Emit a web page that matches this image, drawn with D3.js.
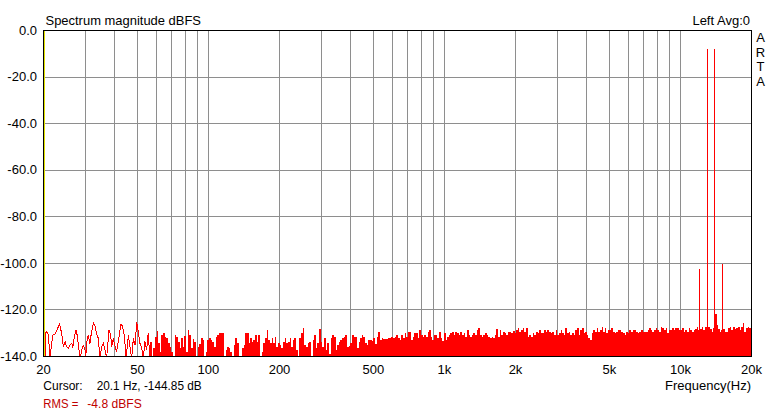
<!DOCTYPE html>
<html>
<head>
<meta charset="utf-8">
<script src="https://cdn.jsdelivr.net/npm/d3@7"></script>
<style>
html,body{margin:0;padding:0;background:#fff;}
svg{display:block;}
text{font-family:"Liberation Sans",Arial,sans-serif;font-size:13px;}
</style>
</head>
<body>
<svg id="chart" width="770" height="411"></svg>
<script>
// ---------------- data ----------------
const yTicks = [0, -20, -40, -60, -80, -100, -120, -140];
const xGridHz = [20,30,40,50,60,70,80,90,100,200,300,400,500,600,700,800,900,1000,
                 2000,3000,4000,5000,6000,7000,8000,9000,10000,20000];
const xLabelHz = [20, 50, 100, 200, 500, 1000, 2000, 5000, 10000, 20000];
const xLabelText = ["20","50","100","200","500","1k","2k","5k","10k","20k"];

// low-frequency part of the spectrum (line)
const lowHz = [20.4,20.5,20.7,21.1,21.4,21.8,22.0,22.5,22.9,23.5,24.0,24.4,24.8,25.2,25.6,
  26.0,26.5,26.7,27.1,27.6,27.9,28.3,28.7,29.1,29.6,30.1,30.3,30.8,31.1,31.6,32.1,32.7,33.2,
  33.7,34.3,34.9,35.4,36.0,36.6,37.2,38.1,38.7,39.1,39.7,40.3,41.0,41.7,42.8,43.5,44.2,45.0,
  46.0,46.8,47.5,48.3,49.1,49.9,50.8,51.5,52.3,53.2,54.1,55.0,55.8,56.8];
const lowDb = [-141,-129.8,-129.5,-131,-141,-134,-131,-130.5,-129,-126.2,-130.3,-136,-133.8,-136,-136.7,
  -135.3,-134.6,-136.7,-132.4,-128.8,-131,-136,-141,-138.1,-135.3,-136.7,-141,-132.4,-131,-134.6,
  -129.8,-125.7,-127,-130.3,-132.4,-141,-136,-134.6,-137.4,-141,-128.8,-131,-136,-132.4,-135.3,
  -138.1,-133.8,-126.2,-127.4,-131,-141,-131,-136.7,-141,-132.4,-135.3,-125.5,-130.3,-134.6,-136,
  -141,-133.8,-137.4,-130.3,-141];

// dense noise floor, 56.8 Hz .. 20 kHz, log-spaced bins (peak level per bin)
const floorStartHz = 56.8, floorEndHz = 20000;
const floorDb = [
 -133.8,-141,-136.7,-131.7,-129.3,-134.6,-138.1,-131.0,-130.3,-131.7,-132.4,
 -134.6,-136.0,-138.1,-141,-131.0,-131.7,-133.8,-136.7,-132.4,-136.0,
 -131.3,-138.1,-128.8,-131.0,-136.7,-132.7,-133.8,-141,-136.0,-135.0,
 -132.4,-133.1,-141,-138.1,-133.1,-132.4,-133.1,-133.8,-136.0,-131.7,
 -131.0,-130.3,-130.3,-130.3,-141,-137.4,-136.0,-136.7,-138.1,-141,
 -135.3,-132.4,-134.6,-141,-141,-136.7,-135.3,-130.3,-130.3,-134.6,
 -132.4,-133.8,-133.1,-131.0,-133.8,-131.0,-141,-138.1,-134.6,-132.4,
 -128.8,-133.1,-134.6,-132.4,-134.6,-131.7,-136.0,-134.6,-135.3,-136.7,
 -133.8,-132.4,-134.6,-133.8,-132.4,-136.0,-133.1,-132.4,
 -137.4,-141,-132.4,-130.3,-128.1,-135.3,-136.0,-134.6,-133.8,-141,
 -133.1,-131.0,-136.7,-134.6,-128.4,-133.8,-136.0,-132.4,-137.4,-134.6,
 -139,-132.4,-131.0,-131.7,-137.4,-135.3,-133.8,-133.1,-132.4,-131.7,
 -131.0,-136.0,-135.6,-134.6,-131.0,-131.7,-131.7,-136.7,-133.8,-132.4,
 -131.0,-131.7,-134.6,-135.3,-133.1,-133.1,-133.6,-132.4,-135.0,-131.7,
 -129.6,-133.1,-132.4,-132.7,-132.7,-132.7,-132.4,-132.4,-131.7,-132.1,
 -131.7,-131.0,-132.4,-133.1,-131.0,-132.4,-130.3,-131.7,-129.8,-129.8,
 -133.1,-131.7,-130.3,-130.3,-132.4,-128.8,-131.0,-131.7,
 -131.0,-131.7,-129.6,-128.8,-131.7,-133.1,-131.0,-131.0,-132.4,-129.6,
 -132.4,-133.6,-130.3,-133.1,-131.7,-131.0,-130.3,-129.6,-131.0,-129.6,
 -130.3,-131.0,-129.6,-131.0,-130.3,-131.7,-128.8,-131.0,-131.7,-131.0,
 -130.3,-131.0,-128.8,-128.1,-131.0,-131.7,-131.0,-130.3,-131.0,-131.7,
 -132.4,-131.7,-132.4,-131.0,-128.4,-131.7,-128.8,-131.0,-129.6,-130.3,
 -131.0,-129.6,-129.6,-130.3,-129.3,-130.3,-128.8,-128.1,-129.6,-128.8,
 -128.1,-129.6,-128.1,-131.7,-131.0,-131.7,-130.3,-131.0,-129.6,-130.3,
 -128.8,-130.3,-130.3,-128.8,-129.6,-128.8,-129.6,-130.3,
 -129.6,-131.0,-128.8,-131.0,-130.3,-128.8,-130.3,-131.0,-128.1,-130.3,
 -129.6,-131.0,-130.3,-131.0,-128.8,-128.1,-131.0,-128.8,-128.1,-130.3,
 -129.6,-131.0,-132.4,-133.1,-130.3,-128.8,-129.6,-128.1,-129.6,-128.8,
 -127.4,-129.6,-128.1,-130.3,-128.8,-128.8,-128.1,-129.6,-130.3,-129.6,
 -128.8,-128.8,-129.6,-130.3,-131.0,-129.6,-130.3,-128.8,-129.6,-128.8,
 -128.8,-129.6,-130.3,-129.6,-128.8,-129.6,-129.6,-129.6,-128.8,-128.1,
 -128.8,-129.6,-128.8,-128.1,-128.8,-129.6,-127.4,-128.1,-128.8,-128.1,
 -130.3,-128.8,-128.8,-128.1,-128.8,-128.1,-128.1,-128.8,
 -128.8,-128.1,-129.6,-128.8,-129.6,-128.1,-128.8,-129.6,-128.8,-128.6,
 -127.7,-128.8,-128.6,-127.7,-128.8,-127.4,-124.1,-127.7,-128.6,-129.6,
 -128.1,-122.0,-126.7,-128.6,-129.6,-128.8,-128.6,-129.6,-129.6,-128.1,
 -127.4,-128.8,-127.7,-128.6,-128.1,-127.4,-128.8,-127.7,-126.0,-129.6,
 -128.1,-127.4,-128.1
];

// test tones and intermodulation products
const toneHz = [12000, 13000, 14000, 15000];
const toneDb = [-102.6, -8.2, -8.2, -100.4];

const cursorHz = 20.1;

// ---------------- chart ----------------
const svg = d3.select("#chart");
const L = 43, R = 751, T = 30, B = 356;
const x = d3.scaleLog().domain([20, 20000]).range([L, R]);
const y = d3.scaleLinear().domain([-140, 0]).range([B, T]);
const px = v => Math.round(v) + 0.5;

svg.append("defs").append("clipPath").attr("id", "plotClip")
  .append("rect").attr("x", L + 1).attr("y", T + 1).attr("width", R - L - 1).attr("height", B - T - 1);

// grid
const grid = svg.append("g").attr("shape-rendering", "crispEdges");
grid.selectAll("line.v").data(xGridHz).join("line")
  .attr("x1", d => px(x(d))).attr("x2", d => px(x(d)))
  .attr("y1", T).attr("y2", B).attr("stroke", "#8e8e8e").attr("stroke-width", 1);
grid.selectAll("line.h").data(yTicks).join("line")
  .attr("x1", L).attr("x2", R)
  .attr("y1", d => px(y(d))).attr("y2", d => px(y(d)))
  .attr("stroke", "#8e8e8e").attr("stroke-width", 1);

const plot = svg.append("g").attr("clip-path", "url(#plotClip)");

// dense floor as stepped area
const nF = floorDb.length;
const floorPts = floorDb.map((v, i) => [floorStartHz * Math.pow(floorEndHz / floorStartHz, i / nF), v]);
floorPts.push([floorEndHz, floorDb[nF - 1]]);
plot.append("path")
  .datum(floorPts)
  .attr("d", d3.area().curve(d3.curveStepAfter)
    .x(d => x(d[0])).y0(y(-145)).y1(d => y(d[1])))
  .attr("fill", "#ff0000").attr("shape-rendering", "crispEdges");

// low-frequency line
const lowPts = lowHz.map((f, i) => [f, lowDb[i]]);
plot.append("path")
  .datum(lowPts)
  .attr("d", d3.line().x(d => x(d[0])).y(d => y(d[1])))
  .attr("fill", "none").attr("stroke", "#ff0000").attr("stroke-width", 1)
  .attr("shape-rendering", "crispEdges");

// tones
plot.selectAll("line.tone").data(toneHz).join("line")
  .attr("x1", d => px(x(d))).attr("x2", d => px(x(d)))
  .attr("y1", y(-145)).attr("y2", (d, i) => y(toneDb[i]))
  .attr("stroke", "#ff0000").attr("stroke-width", 1).attr("shape-rendering", "crispEdges");

// frame
svg.append("rect").attr("x", L + 0.5).attr("y", T + 0.5).attr("width", R - L).attr("height", B - T)
  .attr("fill", "none").attr("stroke", "#000").attr("stroke-width", 1).attr("shape-rendering", "crispEdges");

// cursor (yellow)
svg.append("line")
  .attr("x1", px(x(cursorHz))).attr("x2", px(x(cursorHz)))
  .attr("y1", T + 1).attr("y2", B)
  .attr("stroke", "#e0e000").attr("stroke-width", 1).attr("shape-rendering", "crispEdges");

// axes labels
const yAxis = svg.append("g").attr("transform", "translate(37,0)")
  .call(d3.axisLeft(y).tickValues(yTicks).tickFormat(d => d.toFixed(1)).tickSize(0).tickPadding(0));
yAxis.select(".domain").remove();
yAxis.selectAll("text").attr("fill", "#000").style("font-size", "13px")
  .style("font-family", "'Liberation Sans',Arial,sans-serif");

const xAxis = svg.append("g").attr("transform", "translate(0,365)")
  .call(d3.axisBottom(x).tickValues(xLabelHz).tickFormat((d, i) => xLabelText[i]).tickSize(0).tickPadding(0));
xAxis.select(".domain").remove();
xAxis.selectAll("text").attr("fill", "#000").style("font-size", "13px")
  .style("font-family", "'Liberation Sans',Arial,sans-serif");

// texts
function txt(s, xx, yy, opts = {}) {
  const t = svg.append("text").attr("x", xx).attr("y", yy).text(s)
    .attr("fill", opts.fill || "#000");
  if (opts.anchor) t.attr("text-anchor", opts.anchor);
  if (opts.len) t.attr("textLength", opts.len).attr("lengthAdjust", "spacingAndGlyphs");
  return t;
}
txt("Spectrum magnitude dBFS", 45.5, 25, {len: 155.5});
txt("Left  Avg:0", 750, 24.5, {anchor: "end"});
["A", "R", "T", "A"].forEach((c, i) => txt(c, 760.5, 42 + i * 14.7, {anchor: "middle"}));
txt("Frequency(Hz)", 751, 389.5, {anchor: "end"});
txt("Cursor:", 43.3, 389.5, {len: 39.4});
txt("20.1 Hz, -144.85 dB", 96.7, 389.5, {len: 105});
txt("RMS =", 43.3, 407.7, {fill: "#c00000", len: 35});
txt("-4.8 dBFS", 87.3, 407.7, {fill: "#c00000", len: 54.4});
</script>
</body>
</html>
